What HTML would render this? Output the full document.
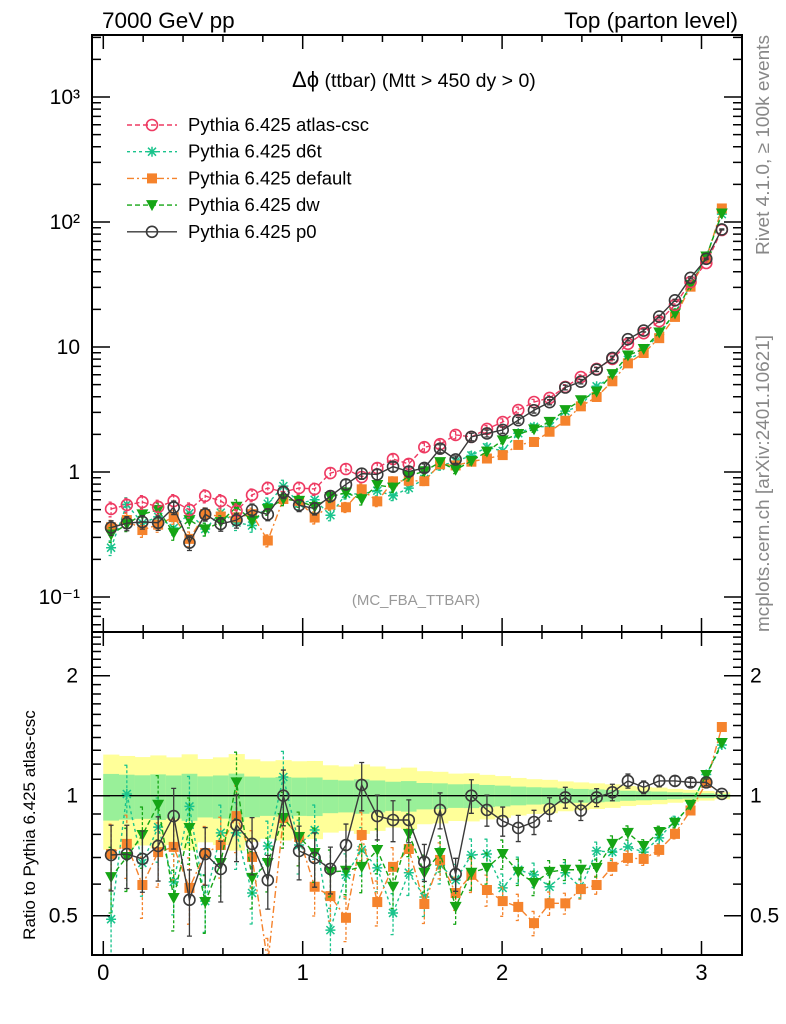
<!DOCTYPE html>
<html><head><meta charset="utf-8"><style>
html,body{margin:0;padding:0;background:#fff;}
svg{display:block;font-family:"Liberation Sans",Arial,sans-serif;}
</style></head><body>
<svg id="chart" width="786" height="1024" viewBox="0 0 786 1024" xmlns="http://www.w3.org/2000/svg">
<defs>
<clipPath id="clipMain"><rect x="92" y="36" width="650" height="596"/></clipPath>
<clipPath id="clipRatio"><rect x="92" y="633" width="650" height="321"/></clipPath>
</defs>
<text x="102" y="28" font-size="22.5">7000 GeV pp</text>
<text x="738" y="28" font-size="22.5" text-anchor="end">Top (parton level)</text>
<text transform="translate(769,255) rotate(-90)" font-size="18.5" fill="#888" textLength="220" lengthAdjust="spacingAndGlyphs">Rivet 4.1.0, ≥ 100k events</text>
<text transform="translate(769,632) rotate(-90)" font-size="18.5" fill="#888" textLength="297" lengthAdjust="spacingAndGlyphs">mcplots.cern.ch [arXiv:2401.10621]</text>
<text transform="translate(35,825) rotate(-90)" font-size="17" text-anchor="middle">Ratio to Pythia 6.425 atlas-csc</text>
<text x="292" y="87" font-size="19.5"><tspan font-size="22">Δϕ</tspan> (ttbar) (Mtt &gt; 450 dy &gt; 0)</text>
<text x="416" y="605" font-size="15" fill="#999" text-anchor="middle">(MC_FBA_TTBAR)</text>
<g id="bands"></g>
<g id="marks"></g>
<g id="axes"></g>
<g id="legend"></g>
</svg>
<script>
// ---- data ----
const binCenters = [0.039,0.118,0.196,0.275,0.353,0.432,0.511,0.589,0.668,0.746,0.825,0.903,0.982,1.060,1.139,1.217,1.296,1.374,1.453,1.532,1.610,1.689,1.767,1.846,1.924,2.003,2.081,2.160,2.238,2.317,2.395,2.474,2.553,2.631,2.710,2.788,2.867,2.945,3.024,3.102];
const binWidth = 0.0785;
const atlasValues = [0.506,0.545,0.575,0.525,0.586,0.497,0.643,0.586,0.488,0.655,0.745,0.692,0.745,0.731,0.98,1.057,0.912,1.076,1.27,1.16,1.58,1.67,1.98,1.91,2.21,2.51,3.13,3.63,3.91,4.79,5.75,6.67,8.02,10.6,12.9,16.1,21.7,33.1,47.0,86.3];
const atlasRelErr = [0.134,0.129,0.125,0.131,0.124,0.135,0.118,0.124,0.136,0.117,0.11,0.114,0.11,0.111,0.096,0.092,0.099,0.092,0.084,0.088,0.076,0.074,0.068,0.069,0.064,0.06,0.054,0.05,0.048,0.043,0.04,0.037,0.034,0.029,0.026,0.024,0.02,0.017,0.014,0.01];
const d6tRatio = [0.490,1.01,0.678,0.834,0.608,0.940,0.544,0.807,0.807,0.570,0.748,1.114,0.752,0.820,0.460,0.633,0.731,0.659,0.508,0.641,0.557,0.670,0.614,0.710,0.714,0.587,0.652,0.633,0.591,0.641,0.587,0.727,0.722,0.744,0.722,0.784,0.864,0.940,1.13,1.34];
const defaultRatio = [0.714,0.757,0.597,0.722,0.744,0.587,0.718,0.752,0.889,0.702,0.38,0.879,0.788,0.591,0.56,0.494,0.797,0.541,0.663,0.735,0.535,0.690,0.570,0.633,0.580,0.544,0.526,0.479,0.537,0.537,0.583,0.597,0.663,0.698,0.694,0.731,0.802,0.918,1.076,1.487];
const dwRatio = [0.625,0.702,0.797,0.949,0.554,0.830,0.541,0.678,1.08,0.622,0.678,0.879,0.788,0.718,0.644,0.648,0.663,0.731,0.591,0.802,0.641,0.718,0.526,0.641,0.659,0.714,0.644,0.604,0.644,0.652,0.652,0.659,0.757,0.807,0.748,0.811,0.855,0.949,1.127,1.356];
const p0Ratio = [0.710,0.714,0.694,0.748,0.889,0.548,0.714,0.655,0.844,0.757,0.614,1.00,0.727,0.698,0.655,0.752,1.064,0.889,0.869,0.869,0.682,0.921,0.636,1.00,0.921,0.864,0.830,0.859,0.926,0.99,0.918,0.99,1.02,1.089,1.05,1.089,1.089,1.08,1.08,1.01];
const seriesNames = ["Pythia 6.425 atlas-csc","Pythia 6.425 d6t","Pythia 6.425 default","Pythia 6.425 dw","Pythia 6.425 p0"];
const xTickLabels = ["0","1","2","3"];
const mainTickLabels = ["10³","10²","10","1","10⁻¹"];
const mainTickValues = [1000,100,10,1,0.1];
const ratioTickLabels = ["2","1","0.5"];
const ratioTickValues = [2,1,0.5];

// ---- axes ----
const X0=103.3, XS=199.4;
const xPx = v => X0 + v*XS;
const yMain = v => 472 - 125*Math.log10(v);
const yRatio = r => 795.7 - 120*Math.log2(r);
const NS="http://www.w3.org/2000/svg";
function mk(tag, attrs, parent){const e=document.createElementNS(NS,tag);for(const k in attrs)e.setAttribute(k,attrs[k]);parent.appendChild(e);return e;}

const bands=document.getElementById('bands');
const marks=document.getElementById('marks');
const axes=document.getElementById('axes');
const legend=document.getElementById('legend');

const bandG=mk('g',{'clip-path':'url(#clipRatio)'},bands);


binCenters.forEach((c,i)=>{
  const x1=xPx(c-binWidth/2), x2=xPx(c+binWidth/2)+0.5, e=atlasRelErr[i];
  const y=mk('rect',{x:x1,y:yRatio(1+2*e),width:x2-x1,height:yRatio(Math.max(1-2*e,0.05))-yRatio(1+2*e),fill:'#ffff99'},bandG);
  
  
  const g=mk('rect',{x:x1,y:yRatio(1+e),width:x2-x1,height:yRatio(1-e)-yRatio(1+e),fill:'#99f099'},bandG);
  
  
});
const oneLine=mk('line',{x1:92,x2:742,y1:yRatio(1),y2:yRatio(1),stroke:'#000','stroke-width':1.3},bands);



const styles=[
 {color:'#ee3a62',dash:'5,3',marker:'opencircle',ratios:null},
 {color:'#1ac48c',dash:'3,3',marker:'star',ratios:d6tRatio},
 {color:'#f5832c',dash:'7,3,2,3',marker:'square',ratios:defaultRatio},
 {color:'#15a515',dash:'5,3',marker:'tri',ratios:dwRatio},
 {color:'#3a3a3a',dash:'',marker:'opencircle',ratios:p0Ratio}
];
const order=[1,2,3,0,4];
function marker(g,type,x,y,color){
  let e;
  if(type==='opencircle') e=mk('circle',{cx:x,cy:y,r:5.5,fill:'none',stroke:color,'stroke-width':1.6},g);
  else if(type==='square') e=mk('rect',{x:x-5,y:y-5,width:10,height:10,fill:color},g);
  else if(type==='tri') e=mk('path',{d:`M${x-6},${y-5}L${x+6},${y-5}L${x},${y+6}Z`,fill:color},g);
  else { e=mk('path',{d:`M${x-5},${y}H${x+5}M${x},${y-5}V${y+5}M${x-4},${y-4}L${x+4},${y+4}M${x-4},${y+4}L${x+4},${y-4}`,stroke:color,'stroke-width':1.5},g);}
  
  
}
function drawSeries(si){
  const st=styles[si];
  const vals=atlasValues.map((v,i)=>st.ratios?v*st.ratios[i]:v);
  const rats=atlasValues.map((v,i)=>st.ratios?st.ratios[i]:1);
  const panels=[[yMain,vals,'#clipMain',1],[yRatio,rats,'#clipRatio',1.4]];
  panels.forEach(([yf,arr,clip,ef],pi)=>{
    if(pi===1 && si===0) return;
    const g=mk('g',{'clip-path':'url('+clip+')'},marks);
    
    
    const pts=arr.map((v,i)=>xPx(binCenters[i])+','+yf(v)).join(' ');
    const pl=mk('polyline',{points:pts,fill:'none',stroke:st.color,'stroke-width':1.4,'stroke-dasharray':st.dash},g);
    
    
    arr.forEach((v,i)=>{
      const x=xPx(binCenters[i]), e=atlasRelErr[i]*ef*v;
      const y1=yf(v+e), y2=yf(Math.max(v-e,v*0.05));
      const eb=mk('path',{d:`M${x},${y1}V${y2}M${x-2.5},${y1}H${x+2.5}M${x-2.5},${y2}H${x+2.5}`,stroke:st.color,'stroke-width':1.3,'stroke-dasharray':st.dash?'3,2':''},g);
      
      
      marker(g,st.marker,x,yf(v),st.color);
    });
  });
}
order.forEach(drawSeries);

const f1=mk('rect',{x:92,y:35,width:650,height:597,fill:'none',stroke:'#000','stroke-width':2},axes);


const f2=mk('rect',{x:92,y:632,width:650,height:323,fill:'none',stroke:'#000','stroke-width':2},axes);


let tp='';
for(let d=-2;d<=3;d++){for(let m=1;m<10;m++){const y=yMain(m*Math.pow(10,d));if(y<36||y>631)continue;const L=m===1?18:9;tp+=`M92,${y}h${L}M742,${y}h${-L}`;}}
for(let v=0.4;v<=2.6;v+=0.1){const y=yRatio(v);if(y<633||y>954)continue;const maj=Math.abs(v-0.5)<1e-6||Math.abs(v-1)<1e-6||Math.abs(v-2)<1e-6;const L=maj?18:9;tp+=`M92,${y}h${L}M742,${y}h${-L}`;}
for(let k=0;k<=16;k++){const v=k*0.2;const x=xPx(v);if(x>741)continue;const L=(k%5===0)?14:7;tp+=`M${x},955v${-L}M${x},632v${-L}M${x},632v${L}M${x},35v${L}`;}
const ticks=mk('path',{d:tp,stroke:'#000','stroke-width':1.5,fill:'none'},axes);


mainTickLabels.forEach((t,i)=>{const e=mk('text',{x:80,y:yMain(mainTickValues[i])+7,'font-size':21,'text-anchor':'end'},axes);e.textContent=t;
 
 });
ratioTickLabels.forEach((t,i)=>{const y=yRatio(ratioTickValues[i])+7;
 const a=mk('text',{x:78,y:y,'font-size':21,'text-anchor':'end'},axes);a.textContent=t;
 
 
 const b=mk('text',{x:750,y:y,'font-size':21},axes);b.textContent=t;
 
 });
xTickLabels.forEach((t,i)=>{const e=mk('text',{x:xPx(i),y:980,'font-size':22,'text-anchor':'middle'},axes);e.textContent=t;
 
 });

[0,1,2,3,4].forEach(si=>{
  const st=styles[si], y=125+si*26.7;
  const g=mk('g',{},legend);
  
  
  mk('line',{x1:127,x2:177,y1:y,y2:y,stroke:st.color,'stroke-width':1.4,'stroke-dasharray':st.dash},g);
  marker(g,st.marker,152,y,st.color);
  const t=mk('text',{x:188,y:y+6,'font-size':18.5},g);t.textContent=seriesNames[si];
});
</script>
</body></html>
